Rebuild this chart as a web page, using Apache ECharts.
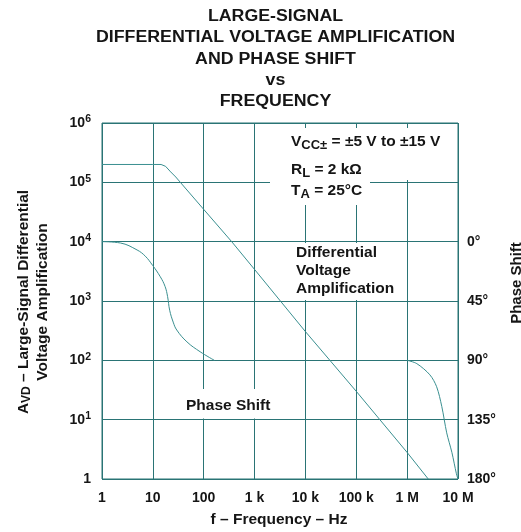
<!DOCTYPE html>
<html>
<head>
<meta charset="utf-8">
<script src="https://cdn.jsdelivr.net/npm/echarts@6/dist/echarts.min.js"></script>
<style>
  html, body { margin: 0; padding: 0; background: #fff; }
  #chart { width: 521px; height: 532px; }
</style>
</head>
<body>
<div id="chart"></div>
<script>
  // values
  var xTickLabels = ['1', '10', '100', '1 k', '10 k', '100 k', '1 M', '10 M']
  var phaseTicks = [0, 45, 90, 135, 180]

  var gainFreq = [1, 10, 14.5, 17.8, 22.4, 28.2, 34.7, 100, 355, 1000, 10000, 100000, 1000000, 2600000]
  var gainVal = [2e5, 2e5, 2e5, 1.86e5, 1.5e5, 1.23e5, 1e5, 3.5e4, 1e4, 3.4e3, 305, 30, 2.8, 1]

  var phaseFreqLow = [1, 2.3, 4.9, 7.1, 9.9, 14, 17.4, 19.5, 21.4, 25.1, 29.5, 46.8, 85.1, 162]
  var phaseDegLow = [0, 1, 6.3, 11, 18, 26.6, 34, 41.7, 52, 61, 67, 76, 83.5, 90]

  var phaseFreqHigh = [1e6, 1.55e6, 2.8e6, 3.8e6, 4.8e6, 6e6, 7.6e6, 9.3e6, 1e7]
  var phaseDegHigh = [90, 92.5, 101, 110, 125, 145, 160, 176, 180]

  var gridColor = '#2a7475'
  var lineColor = '#3a8f90'
  var txt = '#151515'
  var ff = '"Liberation Sans", Arial, sans-serif'

  function pairs(xs, ys) {
    return xs.map(function (x, i) { return [x, ys[i]] })
  }

  var subRich = {
    b: { font: 'bold 15.5px ' + ff, fill: txt, lineHeight: 20 },
    s: { font: 'bold 13px ' + ff, fill: txt, verticalAlign: 'bottom', lineHeight: 14 }
  }

  var chart = echarts.init(document.getElementById('chart'))

  var option = {
    animation: false,
    backgroundColor: '#fff',
    grid: {
      left: 102, top: 123, right: 63, bottom: 53,
      show: true, borderColor: gridColor, borderWidth: 1
    },
    xAxis: {
      type: 'log', logBase: 10, min: 1, max: 1e7, splitNumber: 7,
      axisLine: { show: false },
      axisTick: { show: false },
      axisLabel: {
        margin: 12, color: txt, fontFamily: ff, fontWeight: 'bold', fontSize: 14,
        formatter: function (v) { return xTickLabels[Math.round(Math.log10(v))] }
      },
      splitLine: { show: true, lineStyle: { color: gridColor, width: 1 } }
    },
    yAxis: [
      {
        type: 'log', logBase: 10, min: 1, max: 1e6, splitNumber: 6,
        axisLine: { show: false },
        axisTick: { show: false },
        axisLabel: {
          margin: 11, color: txt, fontFamily: ff, fontWeight: 'bold', fontSize: 14,
          formatter: function (v) {
            var e = Math.round(Math.log10(v))
            return e === 0 ? '{b|1}' : '{b|10}{s|' + e + '}'
          },
          rich: {
            b: { fontSize: 14, fontWeight: 'bold', fontFamily: ff, color: txt, lineHeight: 18 },
            s: { fontSize: 10.5, fontWeight: 'bold', fontFamily: ff, color: txt, verticalAlign: 'top', lineHeight: 12 }
          }
        },
        splitLine: { show: true, lineStyle: { color: gridColor, width: 1 } }
      },
      {
        type: 'value', min: -90, max: 180, interval: 45, inverse: true, position: 'right',
        axisLine: { show: false },
        axisTick: { show: false },
        axisLabel: {
          margin: 9, color: txt, fontFamily: ff, fontWeight: 'bold', fontSize: 14,
          formatter: function (v) { return phaseTicks.indexOf(v) < 0 ? '' : v + '°' }
        },
        splitLine: { show: false }
      }
    ],
    series: [
      {
        name: 'Differential Voltage Amplification', type: 'line', yAxisIndex: 0,
        symbol: 'none', lineStyle: { color: lineColor, width: 1 },
        data: pairs(gainFreq, gainVal)
      },
      {
        name: 'Phase Shift', type: 'line', yAxisIndex: 1, smooth: 0.4,
        symbol: 'none', lineStyle: { color: lineColor, width: 1 },
        data: pairs(phaseFreqLow, phaseDegLow)
      },
      {
        name: 'Phase Shift HF', type: 'line', yAxisIndex: 1, smooth: 0.3,
        symbol: 'none', lineStyle: { color: lineColor, width: 1 },
        data: pairs(phaseFreqHigh, phaseDegHigh)
      }
    ],
    graphic: [
      // title, slightly stretched like the original type
      {
        type: 'text', x: 275.5, y: 6, scaleX: 1.11, z: 110,
        style: {
          text: 'LARGE-SIGNAL\nDIFFERENTIAL VOLTAGE AMPLIFICATION\nAND PHASE SHIFT\nvs\nFREQUENCY',
          textAlign: 'center', fill: txt, lineHeight: 21.3,
          font: 'bold 16px ' + ff
        }
      },
      // white boxes behind the annotations
      { type: 'rect', z: 100, shape: { x: 270, y: 128, width: 187, height: 52 }, style: { fill: '#fff' } },
      { type: 'rect', z: 100, shape: { x: 270, y: 128, width: 100, height: 77 }, style: { fill: '#fff' } },
      { type: 'rect', z: 100, shape: { x: 290, y: 243, width: 110, height: 57 }, style: { fill: '#fff' } },
      { type: 'rect', z: 100, shape: { x: 180, y: 389, width: 96, height: 29.5 }, style: { fill: '#fff' } },
      {
        type: 'text', x: 291, y: 142, z: 110,
        style: { text: '{b|V}{s|CC±}{b| = ±5 V to ±15 V}', textVerticalAlign: 'middle', rich: subRich }
      },
      {
        type: 'text', x: 291, y: 170, z: 110,
        style: { text: '{b|R}{s|L}{b| = 2 kΩ}', textVerticalAlign: 'middle', rich: subRich }
      },
      {
        type: 'text', x: 291, y: 191, z: 110,
        style: { text: '{b|T}{s|A}{b| = 25°C}', textVerticalAlign: 'middle', rich: subRich }
      },
      {
        type: 'text', x: 296, y: 244, z: 110,
        style: {
          text: 'Differential\nVoltage\nAmplification', fill: txt,
          font: 'bold 15.5px ' + ff, lineHeight: 18
        }
      },
      {
        type: 'text', x: 186, y: 406, z: 110,
        style: { text: 'Phase Shift', fill: txt, font: 'bold 15.5px ' + ff, textVerticalAlign: 'middle' }
      },
      // axis names
      {
        type: 'text', x: 33, y: 302, rotation: Math.PI / 2, z: 110,
        style: {
          text: '{b|A}{s|VD}{b| – Large-Signal Differential}\n{b|Voltage Amplification}',
          textAlign: 'center', textVerticalAlign: 'middle',
          rich: {
            b: { font: 'bold 15.5px ' + ff, fill: txt, lineHeight: 19, align: 'center' },
            s: { font: 'bold 12px ' + ff, fill: txt, verticalAlign: 'bottom', lineHeight: 13 }
          }
        }
      },
      {
        type: 'text', x: 509.5, y: 283, rotation: Math.PI / 2, z: 110,
        style: {
          text: 'Phase Shift', fill: txt, font: 'bold 15px ' + ff,
          textAlign: 'center', textVerticalAlign: 'top'
        }
      },
      {
        type: 'text', x: 279, y: 520, z: 110,
        style: {
          text: 'f – Frequency – Hz', fill: txt, font: 'bold 15.5px ' + ff,
          textAlign: 'center', textVerticalAlign: 'middle'
        }
      }
    ]
  }

  chart.setOption(option)
</script>
</body>
</html>
